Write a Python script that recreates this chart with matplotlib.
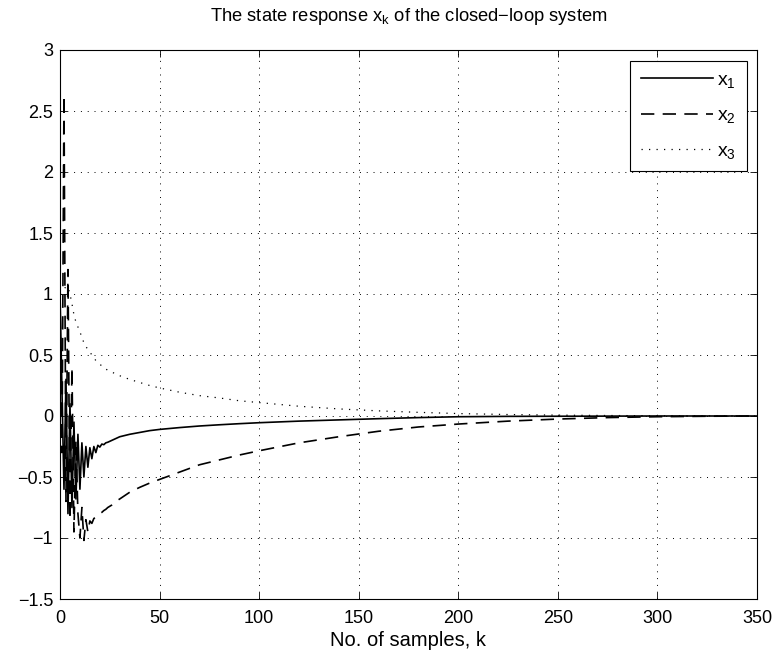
import matplotlib
matplotlib.use("Agg")
import matplotlib.pyplot as plt

plt.rcParams['font.family'] = ['Liberation Sans', 'DejaVu Sans']
plt.rcParams['mathtext.fontset'] = 'custom'
plt.rcParams['mathtext.rm'] = 'Liberation Sans'
plt.rcParams['mathtext.it'] = 'Liberation Sans'

# sample index
k = [0, 1, 2, 3, 4, 5, 6, 7, 8, 9, 10, 11, 12, 13, 14, 15, 16, 17, 18, 19,
     20, 21, 22, 23, 24, 26, 28, 30, 35, 40, 45, 50, 60, 70, 80, 90, 100,
     120, 140, 160, 180, 200, 225, 250, 275, 300, 325, 350]

x1 = [1.0, 0.2, -0.6, 0.3, -0.8, 0.1, -0.75, -0.05, -0.68, -0.15, -0.6, -0.22,
      -0.5, -0.25, -0.42, -0.26, -0.35, -0.25, -0.3, -0.24, -0.255, -0.23,
      -0.235, -0.22, -0.215, -0.2, -0.185, -0.17, -0.15, -0.135, -0.12, -0.11,
      -0.095, -0.082, -0.072, -0.063, -0.055, -0.042, -0.032, -0.022, -0.013,
      -0.006, -0.003, -0.002, -0.001, 0.0, 0.0, 0.0]

x2 = [1.0, -0.3, 2.63, -0.7, 1.2, -0.85, 0.4, -0.95, -0.2, -0.8, -1.0, -0.75,
      -1.02, -0.85, -0.95, -0.86, -0.88, -0.84, -0.83, -0.81, -0.8, -0.79,
      -0.775, -0.765, -0.75, -0.73, -0.7, -0.68, -0.625, -0.585, -0.55, -0.52,
      -0.46, -0.4, -0.36, -0.32, -0.285, -0.22, -0.17, -0.125, -0.09, -0.066,
      -0.042, -0.025, -0.013, -0.006, -0.002, 0.0]

x3 = [1.0, 1.02, 1.04, 1.06, 1.06, 1.0, 0.92, 0.83, 0.77, 0.73, 0.69, 0.645,
      0.6, 0.57, 0.545, 0.525, 0.5, 0.475, 0.455, 0.44, 0.425, 0.41, 0.395,
      0.385, 0.375, 0.36, 0.345, 0.33, 0.3, 0.275, 0.25, 0.23, 0.195, 0.167,
      0.148, 0.125, 0.11, 0.08, 0.058, 0.042, 0.03, 0.02, 0.012, 0.007, 0.004,
      0.002, 0.001, 0.0]

xticks = [0, 50, 100, 150, 200, 250, 300, 350]
yticks = [-1.5, -1, -0.5, 0, 0.5, 1, 1.5, 2, 2.5, 3]
ytick_labels = ['\u22121.5', '\u22121', '\u22120.5', '0', '0.5', '1', '1.5', '2', '2.5', '3']

fig = plt.figure(figsize=(7.78, 6.6), dpi=100)
ax = fig.add_axes([60 / 778, 61 / 660, 697 / 778, 549 / 660])

ax.plot(k, x1, color='black', lw=1.2, ls='-', label=r'x$_1$')
ax.plot(k, x2, color='black', lw=1.2, ls=(0, (8, 5)), label=r'x$_2$')
ax.plot(k, x3, color='black', lw=0.9, ls=(0, (1, 5)), label=r'x$_3$')

ax.set_xlim(0, 350)
ax.set_ylim(-1.5, 3)
ax.set_xticks(xticks)
ax.set_yticks(yticks)
ax.set_yticklabels(ytick_labels)
ax.tick_params(direction='in', top=True, right=True, labelsize=13, length=5, width=0.6)
ax.tick_params(axis='x', pad=8)
ax.tick_params(axis='y', pad=5)
for s in ax.spines.values():
    s.set_linewidth(0.8)
ax.grid(True, color='black', ls=(0, (1, 6)), lw=0.7)

ax.set_title('The state response x$_\\mathregular{k}$ of the closed\u2212loop system',
             fontsize=13.2, pad=21)
ax.set_xlabel('No. of samples, k', fontsize=14.5, labelpad=3)

leg = ax.legend(loc='upper right', bbox_to_anchor=(687 / 697, 538 / 549),
                borderaxespad=0, fontsize=14, handlelength=3.7, handletextpad=0.25,
                fancybox=False, edgecolor='black', framealpha=1,
                borderpad=0.55, labelspacing=0.85)
leg.get_frame().set_linewidth(0.8)

fig.savefig('out.png', dpi=100)
